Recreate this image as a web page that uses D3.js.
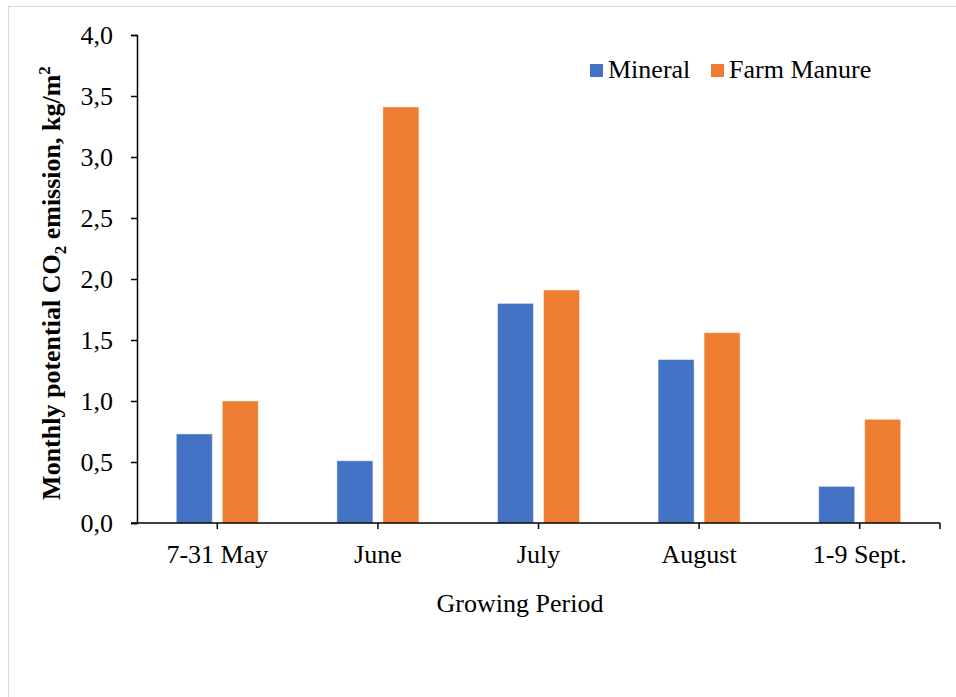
<!DOCTYPE html>
<html>
<head>
<meta charset="utf-8">
<script src="https://cdn.jsdelivr.net/npm/d3@7"></script>
<style>
  html, body { margin: 0; padding: 0; background: #fff; }
  svg { display: block; }
  svg text { font-family: "Liberation Serif", "Times New Roman", serif; fill: #000; }
</style>
</head>
<body>
<svg id="chart" width="956" height="697"></svg>
<script>
// Monthly potential CO2 emission by growing period and fertiliser type
const periods = ["7-31 May", "June", "July", "August", "1-9 Sept."];
const seriesNames = ["Mineral", "Farm Manure"];
const mineral = [0.73, 0.51, 1.80, 1.34, 0.30];
const farmManure = [1.00, 3.41, 1.91, 1.56, 0.85];
const yTicks = [0, 0.5, 1.0, 1.5, 2.0, 2.5, 3.0, 3.5, 4.0];
const colors = ["#4472C4", "#ED7D31"];

const rows = periods.map((p, i) => ({ period: p, values: [mineral[i], farmManure[i]] }));

const FONT = "Liberation Serif";
const FS = "26px";

const svg = d3.select("#chart");

// outer frame
svg.append("rect")
  .attr("x", 8.5).attr("y", 6.5)
  .attr("width", 1000).attr("height", 1000)
  .attr("fill", "none")
  .attr("stroke", "#d9d9d9")
  .attr("stroke-width", 1);

const plot = { left: 137, right: 940, top: 35, bottom: 523 };

const x0 = d3.scaleBand().domain(periods).range([plot.left, plot.right]).paddingInner(0).paddingOuter(0);
const x1 = d3.scaleBand().domain(seriesNames).range([-41, 41]).paddingInner(10 / 46).paddingOuter(0);
const y = d3.scaleLinear().domain([0, 4]).range([plot.bottom, plot.top]);

// bars
const groups = svg.append("g").selectAll("g")
  .data(rows).join("g")
  .attr("transform", d => `translate(${x0(d.period) + x0.bandwidth() / 2},0)`);

groups.selectAll("rect")
  .data(d => d.values.map((v, k) => ({ name: seriesNames[k], value: v, k })))
  .join("rect")
  .attr("x", d => x1(d.name))
  .attr("width", x1.bandwidth())
  .attr("y", d => y(d.value))
  .attr("height", d => y(0) - y(d.value))
  .attr("fill", d => colors[d.k])
  .attr("stroke", "#ffffff")
  .attr("stroke-opacity", 0.45)
  .attr("stroke-width", 1);

// y axis
const fmt = d => d3.format(".1f")(d).replace(".", ",");
const yAxis = svg.append("g")
  .attr("transform", `translate(${plot.left},0)`)
  .call(d3.axisLeft(y).tickValues(yTicks).tickFormat(fmt).tickSizeOuter(0).tickSize(6).tickPadding(18));
yAxis.attr("font-family", FONT).attr("font-size", FS);
yAxis.select(".domain").attr("stroke", "#000").attr("stroke-width", 1.5);
yAxis.selectAll(".tick line").attr("stroke", "#000").attr("stroke-width", 1.5);
yAxis.selectAll(".tick text").attr("dy", "0.34em").style("font-size", FS);

// x axis: ticks at band centres plus the right end
const xAxis = svg.append("g").attr("transform", `translate(0,${plot.bottom})`);
xAxis.append("line")
  .attr("x1", plot.left - 6).attr("x2", plot.right)
  .attr("stroke", "#000").attr("stroke-width", 1.5);
const tickXs = periods.map(p => x0(p) + x0.bandwidth() / 2).concat([plot.right]);
xAxis.selectAll("line.tk").data(tickXs).join("line")
  .attr("class", "tk")
  .attr("x1", d => d).attr("x2", d => d)
  .attr("y1", 0).attr("y2", 6)
  .attr("stroke", "#000").attr("stroke-width", 1.5);
xAxis.selectAll("text.cat").data(periods).join("text")
  .attr("class", "cat")
  .attr("x", d => x0(d) + x0.bandwidth() / 2)
  .attr("y", 40)
  .attr("text-anchor", "middle")
  .style("font-size", FS)
  .text(d => d);

// axis titles
svg.append("text")
  .attr("x", 520).attr("y", 612)
  .attr("text-anchor", "middle")
  .style("font-size", FS)
  .text("Growing Period");

const yTitle = svg.append("text")
  .attr("transform", "translate(60,283) rotate(-90)")
  .attr("text-anchor", "middle")
  .style("font-size", FS)
  .style("font-weight", "bold");
yTitle.append("tspan").text("Monthly potential CO");
yTitle.append("tspan").attr("dy", 6).style("font-size", "17px").text("2");
yTitle.append("tspan").attr("dy", -6).text(" emission, kg/m");
yTitle.append("tspan").attr("dy", -10).style("font-size", "17px").text("2");

// legend
const legend = svg.append("g");
const legendItems = [
  { name: seriesNames[0], color: colors[0], sx: 590, tx: 608 },
  { name: seriesNames[1], color: colors[1], sx: 711, tx: 729 }
];
legend.selectAll("rect").data(legendItems).join("rect")
  .attr("x", d => d.sx).attr("y", 64)
  .attr("width", 13).attr("height", 13)
  .attr("fill", d => d.color);
legend.selectAll("text").data(legendItems).join("text")
  .attr("x", d => d.tx).attr("y", 78)
  .style("font-size", FS)
  .text(d => d.name);
</script>
</body>
</html>
